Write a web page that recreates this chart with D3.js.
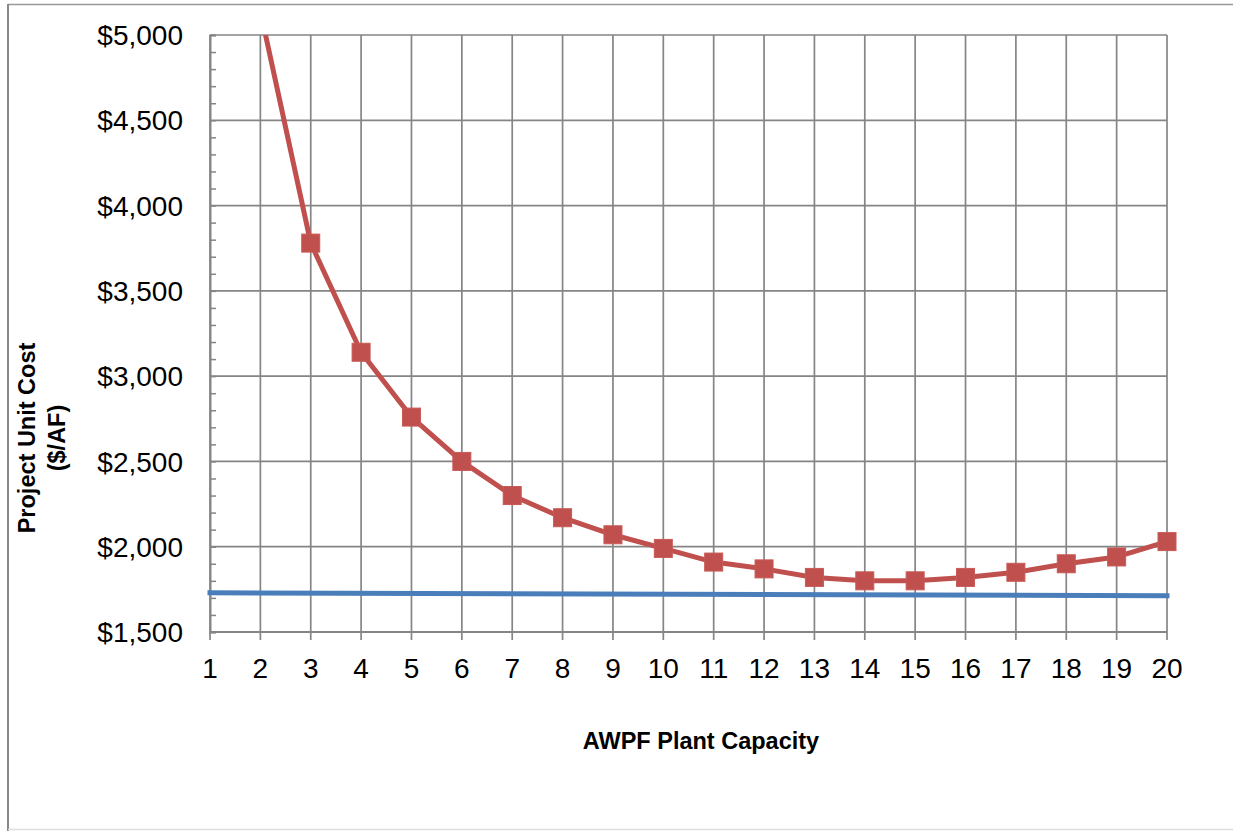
<!DOCTYPE html>
<html>
<head>
<meta charset="utf-8">
<script src="https://cdn.jsdelivr.net/npm/d3@7"></script>
<style>
  body { margin: 0; background: #fff; }
  text { font-family: "Liberation Sans", Arial, sans-serif; }
</style>
</head>
<body>
<div id="chart"></div>
<script>
const capacity = [2, 3, 4, 5, 6, 7, 8, 9, 10, 11, 12, 13, 14, 15, 16, 17, 18, 19, 20];
const unitCost = [5140, 3780, 3140, 2760, 2500, 2300, 2170, 2070, 1990, 1910, 1870, 1820, 1800, 1800, 1820, 1850, 1900, 1940, 2030];
const baseCapacity = [1, 20];
const baseCost = [1730, 1712];
const xTicks = d3.range(1, 21);
const yTicks = [1500, 2000, 2500, 3000, 3500, 4000, 4500, 5000];

const width = 1233, height = 831;
const margin = { top: 35, right: 66, bottom: 199, left: 210 };

const svg = d3.select("#chart").append("svg")
    .attr("width", width)
    .attr("height", height);

// outer frame (cropped)
svg.append("line").attr("x1", 8).attr("x2", width).attr("y1", 4.5).attr("y2", 4.5)
    .attr("stroke", "#999").attr("stroke-width", 1.5);
svg.append("line").attr("x1", 8).attr("x2", 8).attr("y1", 4).attr("y2", height)
    .attr("stroke", "#888").attr("stroke-width", 2);
svg.append("line").attr("x1", 8).attr("x2", width).attr("y1", 829.5).attr("y2", 829.5)
    .attr("stroke", "#ddd").attr("stroke-width", 1.5);

const x = d3.scaleLinear().domain([1, 20]).range([margin.left, width - margin.right]);
const y = d3.scaleLinear().domain([1500, 5000]).range([height - margin.bottom, margin.top]);

const grid = "#858585";

// gridlines
svg.append("g").selectAll("line")
    .data(xTicks)
    .enter().append("line")
    .attr("x1", d => x(d)).attr("x2", d => x(d))
    .attr("y1", y(5000)).attr("y2", y(1500) + 8)
    .attr("stroke", grid).attr("stroke-width", 1.7);

svg.append("g").selectAll("line")
    .data(yTicks)
    .enter().append("line")
    .attr("x1", x(1)).attr("x2", x(20))
    .attr("y1", d => y(d)).attr("y2", d => y(d))
    .attr("stroke", grid).attr("stroke-width", 1.7);

// y axis with inner minor ticks
const yAxis = svg.append("g")
    .attr("transform", `translate(${x(1)},0)`)
    .call(d3.axisRight(y).ticks(35).tickSize(6).tickFormat(""));
yAxis.select(".domain").attr("stroke", grid).attr("stroke-width", 2);
yAxis.selectAll(".tick line").attr("stroke", grid).attr("stroke-width", 1.5);

svg.append("line")
    .attr("x1", x(1)).attr("x2", x(20))
    .attr("y1", y(1500)).attr("y2", y(1500))
    .attr("stroke", grid).attr("stroke-width", 2);

// tick labels
svg.append("g").selectAll("text")
    .data(yTicks)
    .enter().append("text")
    .attr("x", 183)
    .attr("y", d => y(d))
    .attr("dy", "0.36em")
    .attr("text-anchor", "end")
    .style("font-size", "28px")
    .text(d => "$" + d3.format(",")(d));

svg.append("g").selectAll("text")
    .data(xTicks)
    .enter().append("text")
    .attr("x", d => x(d))
    .attr("y", 678)
    .attr("text-anchor", "middle")
    .style("font-size", "28px")
    .text(d => d);

// axis titles
svg.append("text")
    .attr("x", 701)
    .attr("y", 749)
    .attr("text-anchor", "middle")
    .style("font-size", "23.5px")
    .style("font-weight", "bold")
    .text("AWPF Plant Capacity");

const yTitle = svg.append("text")
    .attr("transform", "translate(35,438) rotate(-90)")
    .attr("text-anchor", "middle")
    .style("font-size", "23.5px")
    .style("font-weight", "bold");
yTitle.append("tspan").attr("x", 0).attr("y", 0).text("Project Unit Cost");
yTitle.append("tspan").attr("x", 0).attr("y", 30).text("($/AF)");

// series
svg.append("clipPath").attr("id", "plot-clip")
    .append("rect")
    .attr("x", x(1) - 20).attr("y", y(5000))
    .attr("width", x(20) - x(1) + 40).attr("height", y(1500) - y(5000) + 20);

const line = d3.line()
    .x(d => x(d[0]))
    .y(d => y(d[1]));

svg.append("path")
    .datum(d3.zip(baseCapacity, baseCost))
    .attr("d", line)
    .attr("fill", "none")
    .attr("stroke", "#4A7EBB")
    .attr("stroke-width", 5)
    .attr("stroke-linecap", "square");

const costPoints = d3.zip(capacity, unitCost);

svg.append("path")
    .datum(costPoints)
    .attr("clip-path", "url(#plot-clip)")
    .attr("d", line)
    .attr("fill", "none")
    .attr("stroke", "#C0504D")
    .attr("stroke-width", 5)
    .attr("stroke-linejoin", "round");

const m = 18;
svg.append("g").selectAll("rect")
    .data(costPoints.filter(d => d[1] <= 5000))
    .enter().append("rect")
    .attr("x", d => x(d[0]) - m / 2)
    .attr("y", d => y(d[1]) - m / 2)
    .attr("width", m)
    .attr("height", m)
    .attr("fill", "#C0504D")
    .attr("stroke", "#C85A57")
    .attr("stroke-width", 1);
</script>
</body>
</html>
